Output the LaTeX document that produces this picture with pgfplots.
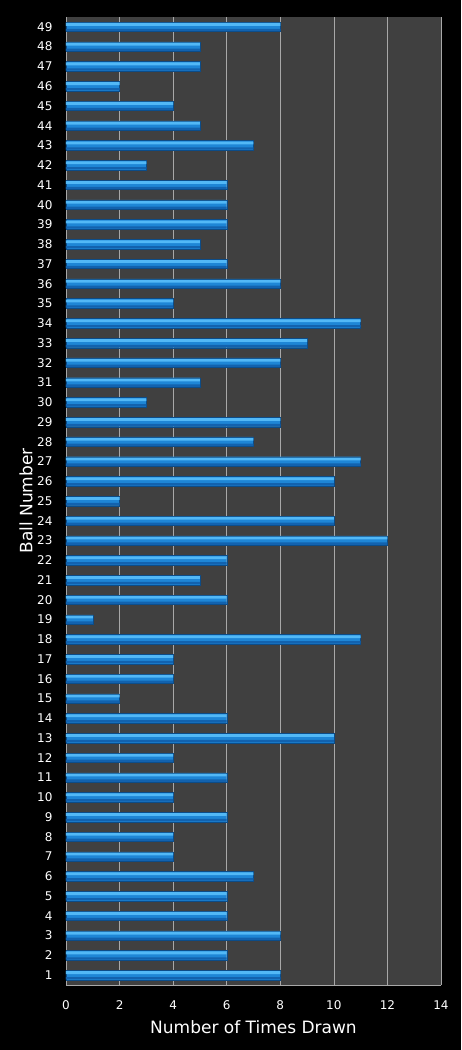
\documentclass[border=0pt]{standalone}
\usepackage{pgfplots}
\usepackage{pgfplotstable}
\pgfplotsset{compat=1.18}
\usepackage{fontspec}
\setmainfont{DejaVu Sans}
\definecolor{plotbg}{HTML}{404040}
\definecolor{gridc}{HTML}{A8A8A8}
\definecolor{bartop}{HTML}{52B8F6}
\definecolor{barmid}{HTML}{1E86D6}
\definecolor{barbot}{HTML}{1262AE}
\definecolor{baredge}{HTML}{0C4C88}
\pgfplotstableread{
ball count
1 8
2 6
3 8
4 6
5 6
6 7
7 4
8 4
9 6
10 4
11 6
12 4
13 10
14 6
15 2
16 4
17 4
18 11
19 1
20 6
21 5
22 6
23 12
24 10
25 2
26 10
27 11
28 7
29 8
30 3
31 5
32 8
33 9
34 11
35 4
36 8
37 6
38 5
39 6
40 6
41 6
42 3
43 7
44 5
45 4
46 2
47 5
48 5
49 8
}\balls
\begin{document}
\begin{tikzpicture}
\fill[black] (-66pt,-65pt) rectangle (395pt,985pt);
\begin{axis}[
  at={(0pt,0pt)}, anchor=south west,
  scale only axis, width=375pt, height=968pt,
  xmin=0, xmax=14, ymin=0.5, ymax=49.5,
  xtick={0,2,...,14}, ytick={1,...,49},
  xmajorgrids, grid style={gridc, line width=0.6pt},
  axis background/.style={fill=plotbg},
  axis x line*=bottom, axis y line*=left,
  axis line style={gridc, line width=0.8pt, -},
  major tick length=0pt,
  tick label style={white, font=\fontsize{12}{14}\selectfont},
  /pgf/number format/assume math mode=true,
  xticklabel style={yshift=-12pt},
  yticklabel style={xshift=-10pt},
  xlabel={Number of Times Drawn},
  ylabel={Ball Number},
  xlabel style={white, font=\fontsize{17}{19}\selectfont, at={(axis description cs:0.5,-0.0434)}, anchor=center},
  ylabel style={white, font=\fontsize{17}{19}\selectfont, at={(axis description cs:-0.1067,0.5)}, anchor=center},
]
\addplot[xbar, bar width=9.5pt, bar shift=0pt, draw=baredge, line width=0.4pt, fill=barmid] table[x=count, y=ball] {\balls};
\addplot[xbar, bar width=2.8pt, bar shift=2.5pt, draw=none, fill=bartop] table[x=count, y=ball] {\balls};
\addplot[xbar, bar width=2.4pt, bar shift=-3.1pt, draw=none, fill=barbot] table[x=count, y=ball] {\balls};
\end{axis}
\end{tikzpicture}
\end{document}
